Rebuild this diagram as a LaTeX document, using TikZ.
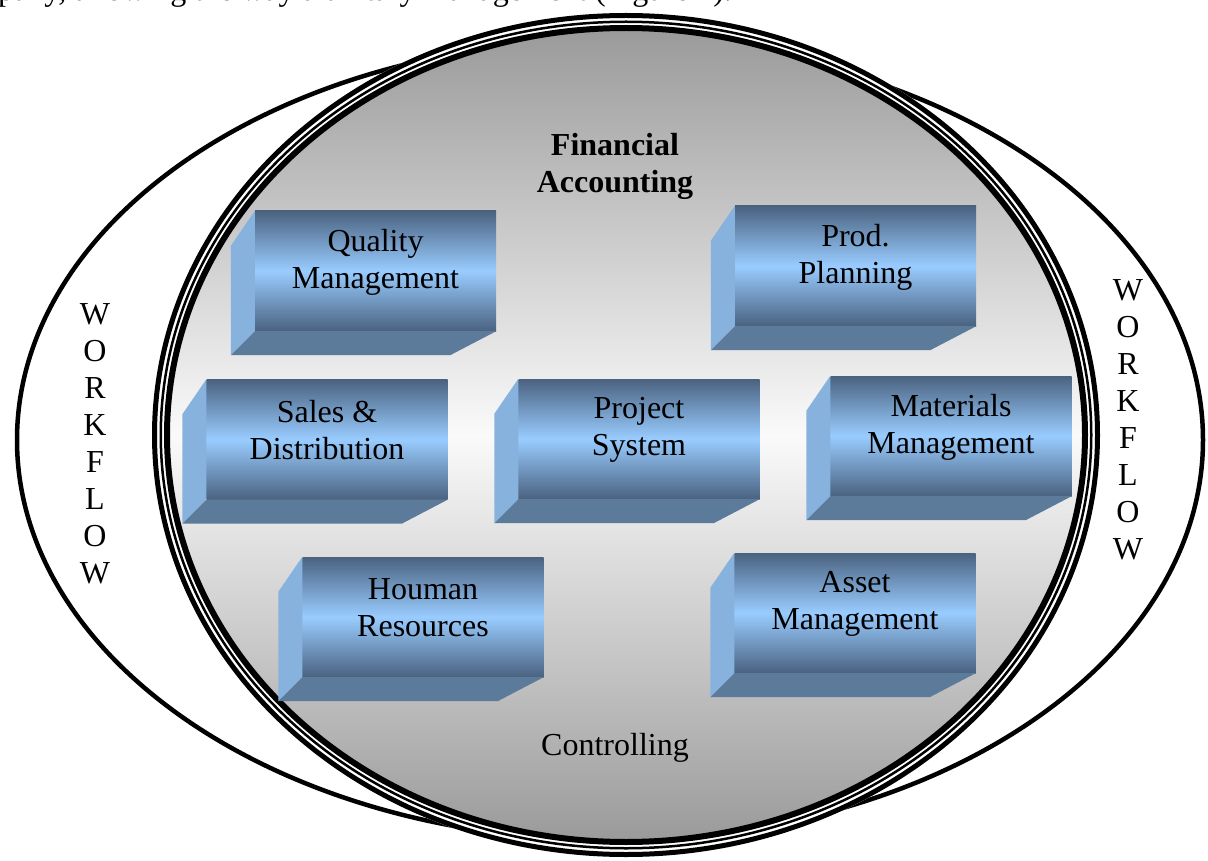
\documentclass[tikz,border=0pt]{standalone}
\usepackage{fontspec}
\setmainfont{Liberation Serif}
\usepackage{tikz}
\usetikzlibrary{calc,shapes}
\usepackage{xcolor}
\definecolor{box-dark}{RGB}{74,98,128}
\definecolor{box-light}{RGB}{153,204,255}
\definecolor{box-side}{RGB}{136,178,222}
\definecolor{box-bottom}{RGB}{92,122,153}
\definecolor{ball-grey}{RGB}{154,154,154}
\definecolor{ball-white}{RGB}{250,250,250}
\newcommand{\bigfont}{\fontsize{32}{37}\selectfont}
\tikzstyle{front}=[rectangle, minimum width=241pt, minimum height=120pt, inner sep=0pt, top color=box-dark, bottom color=box-dark, middle color=box-light]
\tikzstyle{modlabel}=[align=center, font=\bigfont, inner sep=0pt]
\tikzstyle{workflow}=[line width=4.5pt, black]
\tikzstyle{band}=[black]
\newcommand{\modBox}[3]{
	\node[front] (#1) at #2 {};
	\fill[box-side] ($(#1.north west)+(-24,35)$) -- (#1.north west) -- (#1.south west) -- ($(#1.south west)+(-24,24)$) -- cycle;
	\fill[box-bottom] ($(#1.south west)+(-24,24)$) -- (#1.south west) -- (#1.south east) -- ($(#1.south east)+(-46,24)$) -- cycle;
	\node[modlabel] (#1-text) at ($(#1)+(0,-9)$) {#3};
}

\begin{document}
\begin{tikzpicture}[x=1pt,y=-1pt]
	\useasboundingbox (0,0) rectangle (1208,861);
	\node[anchor=base west, font=\bigfont, inner sep=0pt] (intro) at (-2,1) {pany, allowing the way a unitary management (Figure 1).};
	% workflow ring
	\draw[workflow] (610,440) ellipse [x radius=593, y radius=400];
	% the ball
	\fill[white] (626,435) ellipse [x radius=474, y radius=422];
	\shade[top color=ball-grey, bottom color=ball-grey, middle color=ball-white] (626,435) ellipse [x radius=459, y radius=407];
	\draw[band, line width=5pt] (626,435) ellipse [x radius=471.5, y radius=419.5];
	\draw[band, line width=2.5pt] (626,435) ellipse [x radius=465.25, y radius=413.25];
	\draw[band, line width=6pt] (626,435) ellipse [x radius=459, y radius=407];
	\node[font=\bigfont\bfseries, align=center, inner sep=0pt] (fi) at (615,166) {Financial\\Accounting};
	\node[font=\bigfont, inner sep=0pt] (co) at (615,748) {Controlling};
	\node[modlabel] (wfl) at (95,444) {W\\O\\R\\K\\F\\L\\O\\W};
	\node[modlabel] (wfr) at (1128,420) {W\\O\\R\\K\\F\\L\\O\\W};
	% modules
	\modBox{qm}{(375.5,271)}{Quality\\Management}
	\modBox{pp}{(855.5,266)}{Prod.\\Planning}
	\modBox{sd}{(327,439.5)}{Sales \&\\Distribution}
	\modBox{ps}{(639,439)}{Project\\System}
	\modBox{mm}{(951,436)}{Materials\\Management}
	\modBox{hr}{(423,617)}{Houman\\Resources}
	\modBox{am}{(855,613)}{Asset\\Management}
\end{tikzpicture}
\end{document}
